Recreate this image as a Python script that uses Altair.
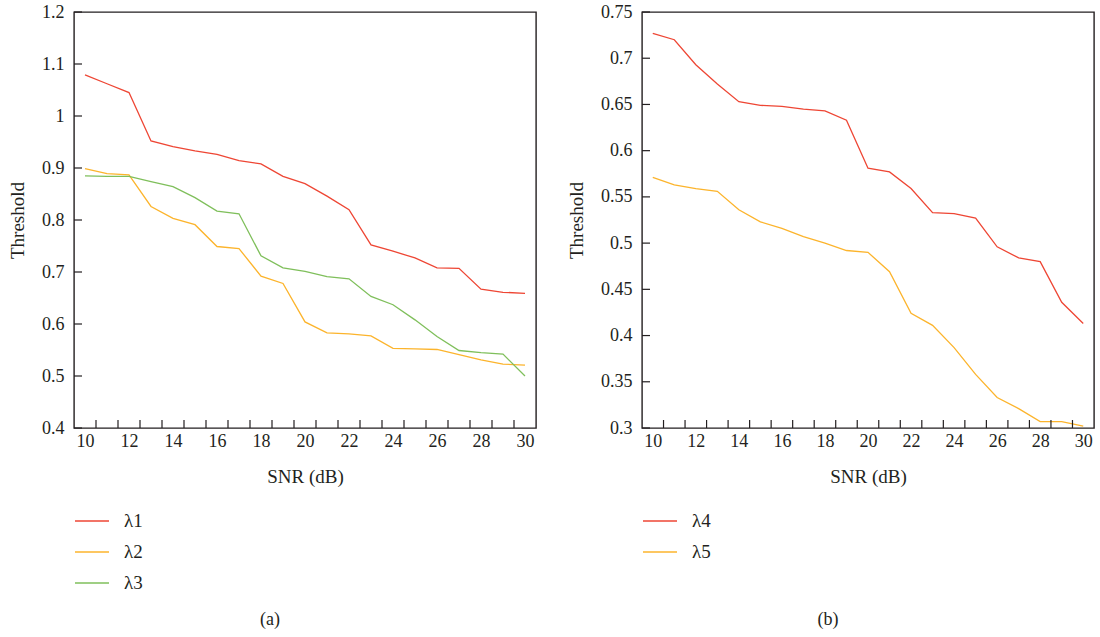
import altair as alt
import pandas as pd

snr = list(range(10, 31))
l1 = [1.079, 1.062, 1.045, 0.952, 0.941, 0.933, 0.926, 0.914, 0.908, 0.884, 0.870,
      0.846, 0.820, 0.752, 0.740, 0.727, 0.708, 0.707, 0.667, 0.661, 0.659]
l2 = [0.899, 0.889, 0.887, 0.826, 0.803, 0.791, 0.749, 0.745, 0.692, 0.678, 0.604,
      0.583, 0.581, 0.577, 0.553, 0.552, 0.551, 0.541, 0.531, 0.523, 0.521]
l3 = [0.885, 0.884, 0.884, 0.874, 0.864, 0.843, 0.817, 0.812, 0.731, 0.708, 0.701,
      0.691, 0.687, 0.653, 0.637, 0.608, 0.576, 0.549, 0.545, 0.542, 0.500]
l4 = [0.727, 0.720, 0.693, 0.672, 0.653, 0.649, 0.648, 0.645, 0.643, 0.633, 0.581,
      0.577, 0.559, 0.533, 0.532, 0.527, 0.496, 0.484, 0.480, 0.436, 0.413]
l5 = [0.571, 0.563, 0.559, 0.556, 0.536, 0.523, 0.516, 0.507, 0.500, 0.492, 0.490,
      0.469, 0.424, 0.411, 0.387, 0.358, 0.333, 0.321, 0.307, 0.307, 0.302]

x_labels = [10, 12, 14, 16, 18, 20, 22, 24, 26, 28, 30]
x_ticks = [v + 0.5 for v in range(10, 30)]
ya_ticks = [0.4, 0.5, 0.6, 0.7, 0.8, 0.9, 1.0, 1.1, 1.2]
yb_ticks = [0.3, 0.35, 0.4, 0.45, 0.5, 0.55, 0.6, 0.65, 0.7, 0.75]

RED = "#ee4634"
ORANGE = "#fcb42c"
GREEN = "#7fbf5b"
INK = "#231f20"
FONT = "Liberation Serif"
H = 416


def panel(series, names, colors, yticks, ydom, W, caption, cap_x):
    rows = []
    for name, vals in zip(names, series):
        for s, v in zip(snr, vals):
            rows.append({"snr": s, "val": v, "name": name})
    df = pd.DataFrame(rows)
    xs = alt.Scale(domain=[9.5, 30.5], nice=False, zero=False)
    ys = alt.Scale(domain=ydom, nice=False, zero=False)
    xaxis = alt.Axis(values=x_labels, ticks=False, tickSize=0, domain=False, grid=False,
                     labelFont=FONT, labelFontSize=18, labelColor=INK, labelPadding=4,
                     titleFont=FONT, titleFontSize=19, titleFontWeight="normal",
                     titleColor=INK, titlePadding=17, labelFlush=False)
    yaxis = alt.Axis(values=yticks, ticks=False, tickSize=0, domain=False, grid=False,
                     labelExpr="datum.value + ''",
                     labelFont=FONT, labelFontSize=18, labelColor=INK, labelPadding=10,
                     titleFont=FONT, titleFontSize=19, titleFontWeight="normal",
                     titleColor=INK, titlePadding=14, labelFlush=False)
    lines = alt.Chart(df).mark_line(strokeWidth=1.3, clip=True).encode(
        x=alt.X("snr:Q", scale=xs, title="SNR (dB)", axis=xaxis),
        y=alt.Y("val:Q", scale=ys, title="Threshold", axis=yaxis),
        color=alt.Color("name:N", scale=alt.Scale(domain=names, range=colors),
                        legend=alt.Legend(title=None, orient="none", legendX=0, legendY=491,
                                          direction="vertical", symbolType="stroke",
                                          symbolSize=1156, symbolStrokeWidth=1.3,
                                          labelFont=FONT, labelFontSize=19, labelColor=INK,
                                          labelOffset=14, rowPadding=3)),
    )
    xt = alt.Chart(pd.DataFrame({"t": x_ticks})).mark_rule(color=INK, strokeWidth=1.2).encode(
        x=alt.X("t:Q", scale=xs, title="SNR (dB)", axis=xaxis), y=alt.value(H - 8), y2=alt.value(H))
    yt = alt.Chart(pd.DataFrame({"v": yticks})).mark_rule(color=INK, strokeWidth=1.2).encode(
        y=alt.Y("v:Q", scale=ys, title="Threshold", axis=yaxis), x=alt.value(0), x2=alt.value(8))
    cap = alt.Chart(pd.DataFrame({"c": [caption]})).mark_text(
        font=FONT, fontSize=18, color=INK, baseline="middle", align="center").encode(
        text="c:N", x=alt.value(cap_x), y=alt.value(608))
    return alt.layer(lines, xt, yt, cap).properties(width=W, height=H)


left = panel([l1, l2, l3], ["λ1", "λ2", "λ3"], [RED, ORANGE, GREEN], ya_ticks, [0.4, 1.2], 462, "(a)", 196)
right = panel([l4, l5], ["λ4", "λ5"], [RED, ORANGE], yb_ticks, [0.3, 0.75], 452, "(b)", 186)

chart = alt.hconcat(left, right, spacing=29).resolve_scale(color="independent").resolve_legend(
    color="independent").configure(
    padding={"left": 7, "top": 2, "right": 5, "bottom": 5}, background="white").configure_view(
    stroke=INK, strokeWidth=1.4)

chart.save("out.html", embed_options={"renderer": "svg", "actions": False})
